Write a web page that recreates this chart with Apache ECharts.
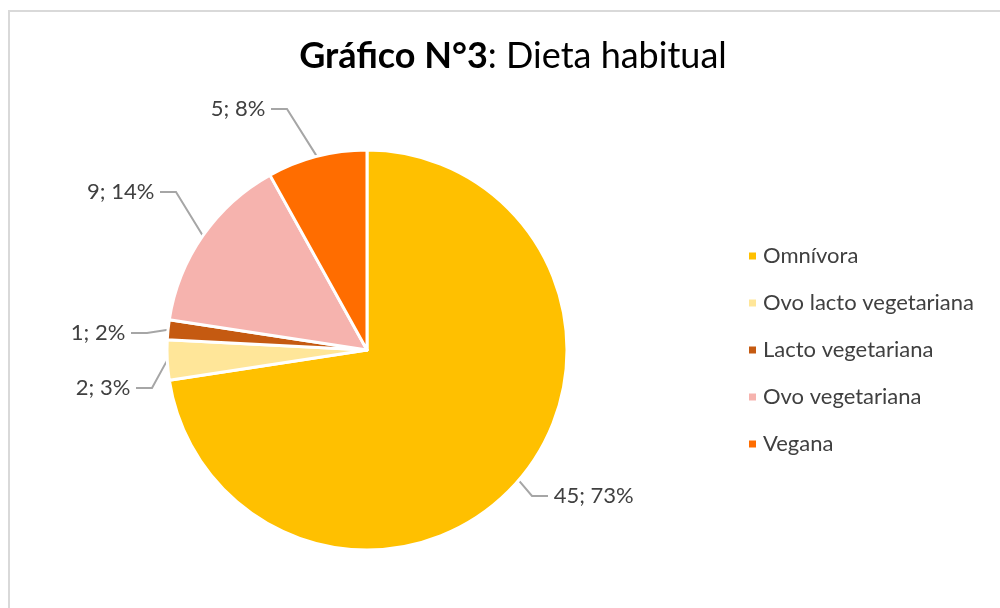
<!DOCTYPE html>
<html>
<head>
<meta charset="utf-8">
<script src="https://cdn.jsdelivr.net/npm/echarts@6/dist/echarts.min.js"></script>
<style>
    html, body {margin: 0; padding: 0; background: #fff;}
    #chartDiv {width: 1000px; height: 608px;}
</style>
</head>
<body>
<div id="chartDiv"></div>
<script>
var categories = ['Omnívora', 'Ovo lacto vegetariana', 'Lacto vegetariana', 'Ovo vegetariana', 'Vegana'];
var counts = [45, 2, 1, 9, 5];
var percents = [73, 3, 2, 14, 8];
var colors = ['#FFC000', '#FFE699', '#C55A11', '#F6B3AE', '#FF6D00'];

var fontName = 'Lato, "Open Sans", sans-serif';

// where the original puts each label (x = edge nearest the pie, y = middle)
var labelSpots = [[548, 496, 'left'], [136, 388, 'right'], [131, 333, 'right'], [160, 192, 'right'], [271, 109, 'right']];

var chart = echarts.init(document.getElementById('chartDiv'));

var pieData = categories.map(function (name, i) {
    return {name: name, value: counts[i], pct: percents[i]};
});

var option = {
    color: colors,
    textStyle: {fontFamily: fontName},
    title: {
        text: '{b|Gráfico N°3}{n|: Dieta habitual}',
        left: 508,
        textAlign: 'center',
        top: 33,
        textStyle: {
            rich: {
                b: {fontFamily: fontName, fontWeight: 'bold', fontSize: 36, color: '#000'},
                n: {fontFamily: fontName, fontWeight: 'normal', fontSize: 36, color: '#000'}
            }
        }
    },
    legend: {
        orient: 'vertical',
        left: 742,
        top: 240,
        icon: 'rect',
        itemWidth: 9,
        itemHeight: 9,
        itemGap: 25,
        textStyle: {fontFamily: fontName, fontSize: 22, color: '#404040', padding: [0, 0, 0, 1]},
        data: categories
    },
    graphic: [{
        type: 'polyline',
        shape: {points: [[9, 608], [9, 11], [1000, 11]]},
        style: {stroke: '#d9d9d9', lineWidth: 2, fill: null}
    }],
    series: [{
        type: 'pie',
        center: [367, 350],
        radius: 200,
        startAngle: 90,
        clockwise: true,
        avoidLabelOverlap: true,
        itemStyle: {borderColor: '#fff', borderWidth: 3},
        label: {
            show: true,
            position: 'outside',
            fontFamily: fontName,
            fontSize: 22,
            color: '#404040',
            formatter: function (p) {
                var txt = p.value + '; ' + p.data.pct + '%';
                // a space on the side facing the leader line keeps a small gap
                return labelSpots[p.dataIndex][2] === 'left' ? ' ' + txt : txt + ' ';
            }
        },
        labelLine: {
            show: true,
            length: 40,
            length2: 16,
            smooth: false,
            lineStyle: {color: '#a6a6a6', width: 2}
        },
        labelLayout: function (params) {
            var s = labelSpots[params.dataIndex];
            return {x: s[0], y: s[1], align: s[2], verticalAlign: 'middle'};
        },
        emphasis: {disabled: true},
        data: pieData
    }]
};

chart.setOption(option);
</script>
</body>
</html>
